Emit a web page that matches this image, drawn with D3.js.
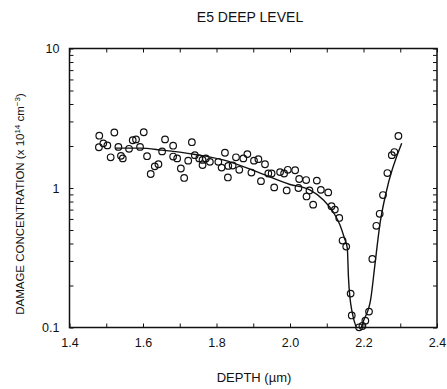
<!DOCTYPE html>
<html>
<head>
<meta charset="utf-8">
<script src="https://cdn.jsdelivr.net/npm/d3@7"></script>
<style>
  body { margin: 0; background: #fff; }
  svg { display: block; font-family: "Liberation Sans", Arial, sans-serif; }
</style>
</head>
<body>
<div id="chart"></div>
<script>
// measured points: depth (um) and concentration (x 1e14 cm^-3)
const depth = [1.481, 1.480, 1.492, 1.503, 1.522, 1.512, 1.533, 1.540, 1.545, 1.562,
  1.572, 1.581, 1.592, 1.602, 1.611, 1.621, 1.632, 1.642, 1.652, 1.660,
  1.682, 1.682, 1.693, 1.703, 1.712, 1.723, 1.733, 1.741, 1.753, 1.762,
  1.771, 1.762, 1.782, 1.805, 1.823, 1.814, 1.832, 1.844, 1.831, 1.853,
  1.862, 1.873, 1.884, 1.902, 1.914, 1.895, 1.932, 1.921, 1.941, 1.950,
  1.957, 1.973, 1.984, 1.994, 1.991, 2.014, 2.025, 2.044, 2.023, 2.073,
  2.053, 2.045, 2.084, 2.104, 2.063, 2.113, 2.122, 2.134, 2.143, 2.153,
  2.224, 2.165, 2.168, 2.215, 2.205, 2.197, 2.188, 2.235, 2.244, 2.253,
  2.265, 2.277, 2.284, 2.295];
const damage = [2.37, 1.96, 2.09, 2.02, 2.50, 1.66, 1.97, 1.70, 1.63, 1.91,
  2.20, 2.23, 1.97, 2.51, 1.69, 1.26, 1.43, 1.48, 1.83, 2.23,
  2.01, 1.68, 1.63, 1.38, 1.18, 1.57, 2.13, 1.72, 1.63, 1.59,
  1.63, 1.46, 1.54, 1.54, 1.79, 1.40, 1.44, 1.45, 1.19, 1.66,
  1.35, 1.63, 1.75, 1.57, 1.61, 1.29, 1.48, 1.12, 1.27, 1.27,
  1.01, 1.30, 1.27, 1.35, 0.96, 1.34, 1.16, 1.14, 1.00, 1.13,
  0.96, 0.87, 0.97, 0.93, 0.76, 0.74, 0.70, 0.61, 0.42, 0.38,
  0.31, 0.175, 0.122, 0.130, 0.112, 0.1025, 0.1003, 0.536, 0.653, 0.89,
  1.28, 1.72, 1.81, 2.36];

// fitted profile
const fitDepth = [1.524, 1.592, 1.651, 1.742, 1.818, 1.909, 2.000, 2.054, 2.091, 2.117,
  2.136, 2.148, 2.156, 2.159, 2.168, 2.189, 2.201, 2.220, 2.231, 2.245, 2.261, 2.304];
const fitDamage = [1.93, 1.93, 1.87, 1.74, 1.59, 1.31, 1.06, 0.968, 0.82, 0.676,
  0.543, 0.438, 0.37, 0.231, 0.133, 0.095, 0.113, 0.162, 0.281, 0.558, 0.916, 2.09];

const xTicks = [1.4, 1.5, 1.6, 1.7, 1.8, 1.9, 2.0, 2.1, 2.2, 2.3, 2.4];
const yLabels = [0.1, 1, 10];

const W = 447, H = 389;
const m = { left: 69.5, right: 437, top: 48.5, bottom: 327.5 };

const svg = d3.select('#chart').append('svg')
  .attr('width', W).attr('height', H);

const x = d3.scaleLinear().domain([1.4, 2.4]).range([m.left, m.right]);
const y = d3.scaleLog().domain([0.1, 10]).range([m.bottom, m.top]);

// title
svg.append('text')
  .attr('x', 250).attr('y', 22)
  .attr('text-anchor', 'middle')
  .style('font-size', '14px')
  .attr('fill', '#111')
  .text('E5 DEEP LEVEL');

const styleAxis = g => {
  g.select('.domain').remove();
  g.selectAll('.tick line').attr('stroke', '#111').attr('stroke-width', 1);
  g.selectAll('.tick text').attr('fill', '#111').style('font-size', '12.5px')
    .style('font-family', '"Liberation Sans", Arial, sans-serif');
};

// bottom axis (ticks inward)
svg.append('g')
  .attr('transform', `translate(0,${m.bottom})`)
  .call(d3.axisBottom(x).tickValues(xTicks).tickSize(-4).tickPadding(11)
    .tickFormat(d => (Math.round(d * 10) % 2 === 0 ? d3.format('.1f')(d) : '')))
  .call(styleAxis);

// top axis
svg.append('g')
  .attr('transform', `translate(0,${m.top})`)
  .call(d3.axisTop(x).tickValues(xTicks).tickSize(-4).tickFormat(''))
  .call(styleAxis);

// left axis, log ticks
const yTicks = y.ticks();
svg.append('g')
  .attr('transform', `translate(${m.left},0)`)
  .call(d3.axisLeft(y).tickValues(yTicks).tickSize(-4).tickPadding(10)
    .tickFormat(d => (yLabels.includes(+d.toPrecision(3)) ? d3.format('~g')(d) : '')))
  .call(styleAxis);

// right axis
svg.append('g')
  .attr('transform', `translate(${m.right},0)`)
  .call(d3.axisRight(y).tickValues(yTicks).tickSize(-4).tickFormat(''))
  .call(styleAxis);

// frame
svg.append('rect')
  .attr('x', m.left).attr('y', m.top)
  .attr('width', m.right - m.left).attr('height', m.bottom - m.top)
  .attr('fill', 'none').attr('stroke', '#111').attr('stroke-width', 1.5);

// axis labels
svg.append('text')
  .attr('x', 254).attr('y', 382)
  .attr('text-anchor', 'middle')
  .style('font-size', '13px')
  .attr('fill', '#111')
  .text('DEPTH (\u00b5m)');

const yl = svg.append('text')
  .attr('transform', 'translate(24,204) rotate(-90)')
  .attr('text-anchor', 'middle')
  .style('font-size', '11.5px')
  .attr('fill', '#111');
yl.append('tspan').text('DAMAGE CONCENTRATION (x 10');
yl.append('tspan').attr('dy', -4).style('font-size', '8px').text('14');
yl.append('tspan').attr('dy', 4).text(' cm');
yl.append('tspan').attr('dy', -4).style('font-size', '8px').text('\u22123');
yl.append('tspan').attr('dy', 4).text(')');

// clip
svg.append('clipPath').attr('id', 'plot')
  .append('rect')
  .attr('x', m.left).attr('y', m.top)
  .attr('width', m.right - m.left).attr('height', m.bottom - m.top);

const fit = fitDepth.map((d, i) => [d, fitDamage[i]]);
const line = d3.line()
  .x(d => x(d[0]))
  .y(d => y(d[1]))
  .curve(d3.curveMonotoneX);

svg.append('path')
  .datum(fit)
  .attr('clip-path', 'url(#plot)')
  .attr('fill', 'none')
  .attr('stroke', '#111')
  .attr('stroke-width', 1.4)
  .attr('d', line);

const pts = depth.map((d, i) => [d, damage[i]]);
svg.selectAll('circle.pt')
  .data(pts)
  .enter()
  .append('circle')
  .attr('class', 'pt')
  .attr('cx', d => x(d[0]))
  .attr('cy', d => y(d[1]))
  .attr('r', 3.3)
  .attr('fill', 'none')
  .attr('stroke', '#111')
  .attr('stroke-width', 1.2);
</script>
</body>
</html>
